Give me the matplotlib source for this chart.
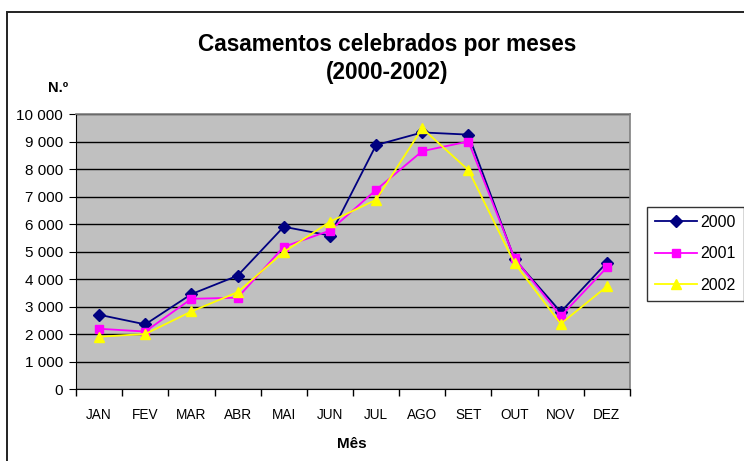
import matplotlib
matplotlib.use("Agg")
import matplotlib.pyplot as plt
from matplotlib.patches import Rectangle
from matplotlib.ticker import MultipleLocator, FuncFormatter
import numpy as np

plt.rcParams['font.family'] = ['Liberation Sans', 'DejaVu Sans']

months = ["JAN", "FEV", "MAR", "ABR", "MAI", "JUN", "JUL", "AGO", "SET", "OUT", "NOV", "DEZ"]
y2000 = [2700, 2350, 3450, 4120, 5900, 5580, 8870, 9330, 9250, 4720, 2800, 4600]
y2001 = [2190, 2090, 3280, 3320, 5170, 5760, 7240, 8650, 9000, 4750, 2650, 4420]
y2002 = [1900, 2000, 2820, 3520, 4980, 6080, 6880, 9480, 7960, 4570, 2370, 3730]
series_labels = ["2000", "2001", "2002"]

W, H = 744, 461
fig = plt.figure(figsize=(W / 100, H / 100), dpi=100)
fig.patch.set_facecolor("white")

# outer chart frame (cropped at right/bottom)
fig.add_artist(Rectangle((7 / W, -0.05), 1.2, 1 - 12 / H + 0.05, transform=fig.transFigure,
                         fill=False, edgecolor="#222222", linewidth=1.4, clip_on=False))

L, R, T, B = 76, 630, 114, 389
ax = fig.add_axes([L / W, 1 - B / H, (R - L) / W, (B - T) / H])
ax.set_facecolor("#C0C0C0")

x = np.arange(len(months))
l1, = ax.plot(x, y2000, color="#000080", marker="D", markersize=6, linewidth=1.3, label=series_labels[0])
l2, = ax.plot(x, y2001, color="#FF00FF", marker="s", markersize=6, linewidth=1.3, label=series_labels[1])
l3, = ax.plot(x, y2002, color="#FFFF00", marker="^", markersize=7.5, linewidth=1.3, label=series_labels[2])

ax.set_xlim(-0.5, len(months) - 0.5)
ax.set_ylim(0, 10000)
ax.yaxis.set_major_locator(MultipleLocator(1000))
ax.yaxis.set_major_formatter(FuncFormatter(lambda v, p: f"{int(v):,}".replace(",", " ")))
ax.grid(axis="y", color="black", linewidth=1.0)
ax.set_axisbelow(True)

ax.set_xticks(x)
ax.set_xticklabels(months)
ax.set_xticks(np.arange(-0.5, len(months)), minor=True)
ax.tick_params(axis="x", which="major", length=0, pad=14, labelsize=9.8)
ax.tick_params(axis="x", which="minor", length=5, direction="out", width=1)
ax.tick_params(axis="y", which="major", length=5, direction="out", labelsize=11, pad=4.5)

for s in ["top", "right"]:
    ax.spines[s].set_color("#808080")
    ax.spines[s].set_linewidth(1.2)
ax.spines["left"].set_color("black")
ax.spines["bottom"].set_color("black")

fig.text(387 / W, 1 - 45 / H, "Casamentos celebrados por meses", ha="center", va="center",
         fontsize=16.3, fontweight="bold")
fig.text(387 / W, 1 - 72 / H, "(2000-2002)", ha="center", va="center",
         fontsize=16.3, fontweight="bold")
fig.text(58 / W, 1 - 88 / H, "N.º", ha="center", va="center", fontsize=10.5, fontweight="bold")
fig.text(352 / W, 1 - 444 / H, "Mês", ha="center", va="center", fontsize=11, fontweight="bold")

leg = fig.legend(handles=[l1, l2, l3], loc="upper left", bbox_to_anchor=(647 / W, 1 - 207 / H),
                 frameon=True, fancybox=False, edgecolor="black", fontsize=11.5,
                 handlelength=2.6, handletextpad=0.25, labelspacing=1.03, borderpad=0.5,
                 borderaxespad=0)
leg.get_frame().set_linewidth(1.0)

fig.savefig("out.png", dpi=100)
